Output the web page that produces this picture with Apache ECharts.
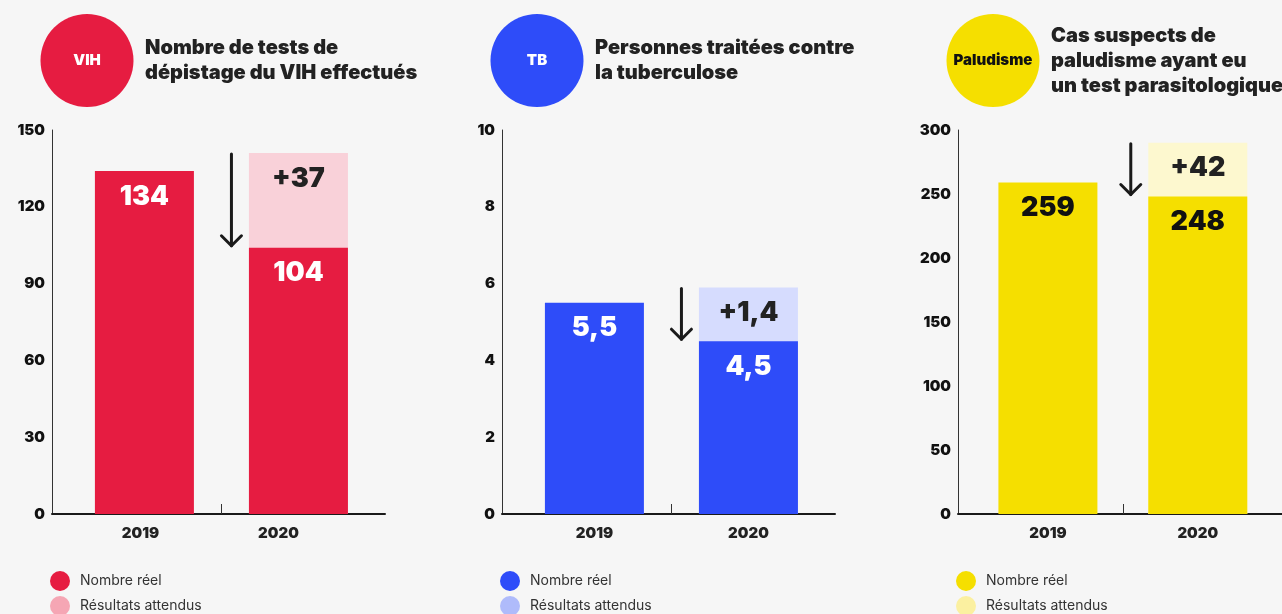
<!DOCTYPE html>
<html>
<head>
<meta charset="utf-8">
<script src="https://cdn.jsdelivr.net/npm/echarts@6/dist/echarts.min.js"></script>
<style>
  html, body { margin: 0; padding: 0; background: #f6f6f6; }
  #chart { width: 1282px; height: 614px; }
</style>
</head>
<body>
<div id="chart"></div>
<script>
// donnees
let years = ['2019', '2020'];

let vihActual = [134, 104];
let vihExpected = [null, 37];
let tbActual = [5.5, 4.5];
let tbExpected = [null, 1.4];
let paluActual = [259, 248];
let paluExpected = [null, 42];

// axes: [max, interval]
let vihAxis = [150, 30];
let tbAxis = [10, 2];
let paluAxis = [300, 50];

let legendNames = ['Nombre réel', 'Résultats attendus'];

const FONT = 'Inter, "Noto Sans", sans-serif';
const BAR_W = 99;
const STEP = 154; // px entre les deux barres
const AXIS_X = [52, 502, 958];

let panels = [
    {
        badge: 'VIH', badgeColor: '#fff',
        title: 'Nombre de tests de\ndépistage du VIH effectués', titleTop: 35,
        actual: vihActual, expected: vihExpected, axis: vihAxis, labelShift: [-4, -20],
        color: '#e61c41', light: '#f9d1d9', legendLight: '#f5a6b4', labelColor: '#fff'
    },
    {
        badge: 'TB', badgeColor: '#fff',
        title: 'Personnes traitées contre\nla tuberculose', titleTop: 35,
        actual: tbActual, expected: tbExpected, axis: tbAxis, labelShift: [0, 0],
        color: '#2e4cf9', light: '#d6dcfe', legendLight: '#afbbfb', labelColor: '#fff'
    },
    {
        badge: 'Paludisme', badgeColor: '#111',
        title: 'Cas suspects de\npaludisme ayant eu\nun test parasitologique', titleTop: 23,
        actual: paluActual, expected: paluExpected, axis: paluAxis, labelShift: [0, 0],
        color: '#f5df00', light: '#fdf8cf', legendLight: '#fbf0a0', labelColor: '#111'
    }
];

let fmt = function (v) {
    return String(v).replace('.', ',');
};

let grid = [], xAxis = [], yAxis = [], series = [], legend = [], title = [], graphic = [];

panels.forEach(function (p, i) {
    let ax = AXIS_X[i];
    // suffixe invisible pour que chaque legende garde ses couleurs
    let suffix = '\u200b'.repeat(i);
    let nameA = legendNames[0] + suffix,
        nameB = legendNames[1] + suffix;

    grid.push({ left: ax, top: 130, width: 333, height: 384 });

    xAxis.push({
        type: 'value', gridIndex: i,
        min: -0.6, max: 1.562,
        splitLine: { show: false },
        axisLine: { show: true, onZero: false, lineStyle: { color: '#1a1a1a', width: 2 } },
        axisTick: { show: true, inside: true, length: 10, customValues: [0.5], lineStyle: { color: '#333', width: 1 } },
        axisLabel: {
            customValues: p.labelShift.map(function (s, k) { return k + s / STEP; }),
            formatter: function (v) { return years[Math.round(v)]; },
            margin: 12, fontSize: 15, fontWeight: 900, color: '#222', fontFamily: FONT
        }
    });

    yAxis.push({
        type: 'value', gridIndex: i,
        min: 0, max: p.axis[0], interval: p.axis[1],
        splitLine: { show: false },
        axisTick: { show: false },
        axisLine: { show: true, onZero: false, lineStyle: { color: '#333', width: 1 } },
        axisLabel: { margin: 7, fontSize: 15, fontWeight: 900, color: '#111', fontFamily: FONT }
    });

    // resultats attendus: barre totale derriere la barre reelle
    series.push({
        name: nameB, type: 'bar', xAxisIndex: i, yAxisIndex: i,
        barWidth: BAR_W, barGap: '-100%', z: 1,
        itemStyle: { color: p.legendLight },
        data: p.expected.map(function (v, k) {
            return v === null ? [k, '-'] : { value: [k, p.actual[k] + v], itemStyle: { color: p.light } };
        }),
        label: {
            show: true, position: 'insideTop', distance: 12,
            fontSize: 27, fontWeight: 900, color: '#222', fontFamily: FONT,
            formatter: function (d) { return '+' + fmt(p.expected[d.value[0]]); }
        }
    });

    series.push({
        name: nameA, type: 'bar', xAxisIndex: i, yAxisIndex: i,
        barWidth: BAR_W, barGap: '-100%', z: 2,
        itemStyle: { color: p.color },
        data: p.actual.map(function (v, k) { return [k, v]; }),
        label: {
            show: true, position: 'insideTop', distance: 12,
            fontSize: 27, fontWeight: 900, color: p.labelColor, fontFamily: FONT,
            formatter: function (d) { return fmt(d.value[1]); }
        }
    });

    // fleche de baisse
    series.push({
        type: 'custom', xAxisIndex: i, yAxisIndex: i, z: 10,
        data: [[1, p.actual[1], p.actual[1] + p.expected[1]]],
        renderItem: function (params, api) {
            let top = api.coord([api.value(0), api.value(2)]);
            let bot = api.coord([api.value(0), api.value(1)]);
            let x = top[0] - BAR_W / 2 - 17.5;
            let y1 = top[1] + 1, y2 = bot[1] - 2;
            let st = { stroke: '#1a1a1a', lineWidth: 3, lineCap: 'round', lineJoin: 'round', fill: null };
            return {
                type: 'group',
                children: [
                    { type: 'line', shape: { x1: x, y1: y1, x2: x, y2: y2 }, style: st },
                    { type: 'polyline', shape: { points: [[x - 10, y2 - 10], [x, y2], [x + 10, y2 - 10]] }, style: st }
                ]
            };
        }
    });

    legend.push({
        orient: 'vertical', left: ax - 2, top: 571, height: 60,
        icon: 'circle', itemWidth: 30, itemHeight: 20, itemGap: 5, padding: 0,
        selectedMode: false,
        data: [
            { name: nameA, itemStyle: { color: p.color } },
            { name: nameB, itemStyle: { color: p.legendLight } }
        ],
        formatter: function (n) { return n.replace(/\u200b/g, ''); },
        textStyle: { fontSize: 14, color: '#333', fontFamily: FONT }
    });

    title.push({
        text: p.title, left: ax + 93, top: p.titleTop, padding: 0,
        textStyle: { fontSize: 20, fontWeight: 900, lineHeight: 25, color: '#222', fontFamily: FONT }
    });

    let cx = ax + 35;
    graphic.push({
        type: 'circle', shape: { cx: cx, cy: 60.5, r: 46.5 }, style: { fill: p.color }
    });
    graphic.push({
        type: 'text', x: cx, y: 60.5,
        style: {
            text: p.badge, fill: p.badgeColor, align: 'center', verticalAlign: 'middle',
            fontSize: 15, fontWeight: 900, fontFamily: FONT
        }
    });
});

let chart = echarts.init(document.getElementById('chart'));
chart.setOption({
    backgroundColor: '#f6f6f6',
    animation: false,
    title: title,
    grid: grid,
    xAxis: xAxis,
    yAxis: yAxis,
    legend: legend,
    graphic: graphic,
    series: series
});
</script>
</body>
</html>
